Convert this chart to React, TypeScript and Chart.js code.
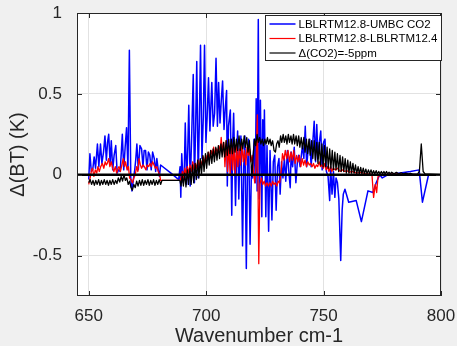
import { useEffect, useRef } from 'react';
import { Chart, registerables } from 'chart.js';

Chart.register(...registerables);

const xTicks = [650, 700, 750, 800];
const yTicks = [-0.5, 0, 0.5, 1];
const xRange = [645, 800];
const yRange = [-0.75, 1];
const seriesLabels = ['LBLRTM12.8-UMBC CO2', 'LBLRTM12.8-LBLRTM12.4', 'Δ(CO2)=-5ppm'];
const xTitle = 'Wavenumber cm-1';
const yTitle = 'Δ(BT) (K)';

// [wavenumber, ΔBT]
const umbc: [number, number][] = [
  [650.0, -0.03], [650.5, 0.13], [651.1, 0.02], [651.7, 0.03], [652.3, 0.11], [652.9, 0.04],
  [653.7, 0.19], [654.3, 0.05], [655.0, 0.19], [655.6, 0.07], [656.3, 0.14], [656.9, 0.24],
  [657.5, 0.09], [658.0, 0.2], [658.5, 0.25], [659.1, 0.07], [659.6, 0.21], [660.2, 0.03],
  [660.8, 0.12], [661.5, 0.18], [662.1, 0.01], [662.7, 0.03], [663.4, 0.02], [664.3, 0.25],
  [664.9, 0.03], [665.5, 0.17], [666.1, 0.29], [666.7, 0.03], [667.3, 0.77], [667.9, -0.02],
  [668.4, -0.1], [669.0, -0.03], [669.5, 0.02], [670.0, 0.09], [670.5, 0.19], [671.1, 0.03],
  [671.8, 0.18], [672.5, 0.16], [673.1, 0.05], [673.6, 0.15], [674.2, 0.15], [674.8, 0.03],
  [675.4, 0.14], [676.0, 0.12], [676.6, 0.03], [677.2, 0.14], [677.9, 0.1], [678.5, 0.02],
  [679.0, 0.1], [679.6, 0.03], [680.1, -0.01], [680.6, 0.06], [685.0, 0.01], [688.3, -0.03],
  [688.9, 0.05], [689.2, -0.14], [689.6, 0.13], [690.2, -0.05], [690.7, 0.03], [691.1, 0.32],
  [691.7, -0.06], [692.2, 0.18], [692.6, 0.43], [693.2, -0.07], [693.8, 0.22], [694.5, 0.62],
  [695.0, -0.05], [695.5, 0.28], [696.0, 0.7], [696.6, -0.02], [697.1, 0.33], [697.6, 0.8],
  [698.2, 0.1], [698.8, 0.36], [699.3, 0.8], [699.9, 0.2], [700.4, 0.35], [701.0, 0.6],
  [701.6, 0.27], [702.4, 0.57], [703.0, 0.3], [703.6, 0.38], [704.2, 0.72], [704.8, 0.3],
  [705.3, 0.57], [705.9, 0.32], [706.4, 0.45], [707.0, 0.58], [707.6, 0.28], [708.1, 0.4],
  [708.7, 0.52], [709.0, -0.07], [709.5, 0.3], [710.3, 0.4], [710.9, -0.25], [711.3, 0.2],
  [711.7, 0.38], [712.5, -0.19], [713.0, 0.15], [713.4, 0.27], [713.9, -0.15], [714.3, 0.1],
  [714.8, 0.24], [715.5, -0.44], [716.0, 0.05], [716.5, 0.24], [717.1, -0.58], [717.6, 0.05],
  [718.1, 0.22], [718.7, -0.43], [719.3, 0.05], [719.8, -0.02], [720.4, 0.22], [720.9, -0.05],
  [721.3, 0.47], [721.7, -0.1], [722.2, 0.96], [722.6, -0.15], [723.1, 0.46], [723.7, -0.26],
  [724.1, 0.34], [724.5, 0.0], [724.8, 0.4], [725.4, -0.26], [725.9, 0.18], [726.6, -0.35],
  [727.2, 0.15], [728.0, -0.28], [728.6, 0.08], [729.2, 0.12], [729.8, -0.22], [730.4, 0.05],
  [731.0, 0.1], [731.5, -0.12], [732.1, 0.08], [732.7, -0.02], [733.3, 0.1], [733.9, -0.04],
  [734.6, 0.15], [735.2, 0.02], [735.8, -0.08], [736.2, 0.14], [736.8, 0.05], [737.5, 0.17],
  [738.2, -0.05], [738.9, 0.09], [739.4, 0.12], [740.0, 0.05], [741.0, 0.18], [741.6, 0.1],
  [742.2, 0.3], [742.8, 0.05], [743.4, 0.15], [744.1, 0.22], [744.7, 0.05], [745.4, 0.2],
  [746.0, 0.33], [746.6, 0.08], [747.1, 0.31], [747.6, 0.1], [748.2, 0.2], [748.8, 0.27],
  [749.4, 0.03], [750.0, 0.2], [750.6, 0.22], [751.2, 0.02], [751.9, -0.01], [752.6, -0.16],
  [753.0, 0.05], [753.6, -0.12], [754.2, 0.02], [754.8, -0.14], [755.3, -0.02], [755.9, -0.05],
  [756.5, -0.15], [757.3, -0.53], [757.9, -0.22], [758.4, -0.12], [759.1, -0.09], [760.7, -0.17],
  [763.9, -0.16], [766.1, -0.29], [768.9, -0.1], [771.0, -0.11], [772.4, -0.05], [773.9, 0.0],
  [775.0, -0.02], [777.5, 0.0], [787.0, 0.02], [790.7, 0.03], [792.1, -0.17], [794.7, 0.0],
  [800.0, 0.0],
];

const lbl124: [number, number][] = [
  [650.0, -0.06], [650.6, -0.02], [651.2, 0.03], [651.6, 0.04], [652.2, -0.01], [652.8, 0.03],
  [653.4, 0.01], [653.9, 0.05], [654.5, 0.02], [655.1, 0.05], [655.8, 0.07], [656.4, 0.04],
  [657.0, 0.08], [657.5, 0.06], [657.9, 0.07], [658.5, 0.1], [659.0, 0.05], [659.6, 0.08],
  [660.2, 0.04], [660.7, 0.02], [661.3, 0.05], [661.9, 0.01], [662.5, 0.04], [662.9, 0.05],
  [663.5, 0.02], [664.1, 0.06], [664.7, 0.1], [665.2, 0.05], [665.7, 0.08], [666.3, 0.03],
  [666.9, 0.05], [667.4, -0.02], [668.0, -0.03], [668.6, -0.05], [669.2, -0.02], [669.8, 0.0],
  [670.4, 0.05], [670.9, 0.02], [671.4, 0.1], [672.0, 0.06], [672.5, 0.04], [673.1, 0.06],
  [673.7, 0.05], [674.3, 0.03], [674.9, 0.06], [675.5, 0.05], [676.1, 0.07], [676.6, 0.05],
  [677.2, 0.08], [677.8, 0.06], [678.4, 0.04], [679.0, 0.05], [679.6, 0.02], [680.2, 0.0],
  [680.6, -0.035], [689.0, -0.035], [689.4, -0.01], [689.9, 0.02], [690.4, -0.02], [690.9, 0.04],
  [691.5, 0.0], [692.0, 0.05], [692.6, 0.01], [693.1, 0.06], [693.7, 0.02], [694.3, 0.08],
  [694.8, 0.03], [695.4, 0.07], [696.0, 0.04], [696.5, 0.09], [697.1, 0.05], [697.6, 0.09],
  [698.2, 0.06], [698.8, 0.11], [699.3, 0.07], [699.9, 0.12], [700.4, 0.09], [701.0, 0.14],
  [701.5, 0.1], [702.1, 0.15], [702.6, 0.12], [703.2, 0.17], [703.7, 0.12], [704.3, 0.16],
  [704.9, 0.14], [705.4, 0.18], [706.0, 0.15], [706.4, 0.23], [706.9, 0.14], [707.5, 0.2],
  [708.0, 0.05], [708.6, 0.21], [709.1, 0.02], [709.7, 0.18], [710.2, 0.0], [710.8, 0.2],
  [711.3, 0.03], [711.9, 0.17], [712.4, 0.0], [713.0, 0.19], [713.5, 0.05], [714.1, 0.16],
  [714.6, 0.06], [715.2, 0.18], [715.8, 0.08], [716.3, 0.15], [716.9, 0.06], [717.4, 0.17],
  [718.0, 0.12], [718.5, 0.16], [719.0, 0.08], [719.6, 0.12], [720.1, 0.02], [720.7, -0.05],
  [721.2, 0.05], [721.8, 0.37], [722.4, -0.55], [722.9, -0.06], [723.5, -0.02], [724.1, -0.06],
  [724.7, -0.04], [725.3, -0.07], [725.9, -0.05], [726.5, -0.07], [727.1, -0.05], [727.7, -0.07],
  [728.3, -0.04], [728.9, -0.06], [729.5, -0.05], [730.1, -0.07], [730.7, -0.04], [731.3, -0.05],
  [731.9, 0.02], [732.5, 0.13], [733.1, 0.09], [733.7, 0.15], [734.3, 0.1], [734.9, 0.15],
  [735.5, 0.08], [736.1, 0.14], [736.7, 0.09], [737.3, 0.15], [737.9, 0.07], [738.5, 0.12],
  [739.1, 0.08], [739.7, 0.12], [740.3, 0.05], [740.9, 0.1], [741.5, 0.06], [742.1, 0.09],
  [742.7, 0.05], [743.3, 0.08], [743.9, 0.06], [744.5, 0.07], [745.1, 0.05], [745.7, 0.07],
  [746.3, 0.04], [746.9, 0.06], [747.5, 0.05], [748.1, 0.08], [748.7, 0.05], [749.3, 0.06],
  [749.9, 0.04], [750.5, 0.07], [751.1, 0.03], [751.7, 0.05], [752.3, 0.02], [752.9, 0.05],
  [753.5, 0.02], [754.1, 0.04], [755.0, 0.03], [756.0, 0.04], [757.0, 0.02], [758.0, 0.03],
  [759.0, 0.02], [760.0, 0.025], [761.0, 0.015], [762.0, 0.02], [764.0, 0.01], [766.0, 0.015],
  [768.0, 0.005], [770.0, 0.005], [770.6, 0.0], [771.3, -0.14], [772.0, -0.06], [772.6, -0.11],
  [773.2, -0.01], [775.0, 0.0], [780.0, 0.005], [790.0, 0.0], [800.0, 0.0],
];

const dco2: [number, number][] = [
  [650.0, -0.05], [650.6, -0.03], [651.2, -0.06], [651.8, -0.035], [652.4, -0.065], [653.0, -0.035],
  [653.6, -0.06], [654.2, -0.03], [654.8, -0.065], [655.4, -0.035], [656.0, -0.06], [656.6, -0.03],
  [657.2, -0.06], [657.8, -0.035], [658.4, -0.065], [659.0, -0.035], [659.6, -0.06], [660.2, -0.03],
  [660.8, -0.06], [661.4, -0.035], [662.0, -0.055], [662.6, -0.02], [663.2, -0.045], [663.8, -0.01],
  [664.4, -0.04], [665.0, 0.0], [665.6, -0.035], [666.2, -0.02], [666.8, -0.06], [667.4, -0.04],
  [668.0, -0.08], [668.6, -0.095], [669.2, -0.06], [669.8, -0.08], [670.4, -0.04], [671.0, -0.07],
  [671.6, -0.035], [672.2, -0.065], [672.8, -0.03], [673.4, -0.065], [674.0, -0.035], [674.6, -0.06],
  [675.2, -0.03], [675.8, -0.065], [676.4, -0.035], [677.0, -0.06], [677.6, -0.03], [678.2, -0.065],
  [678.8, -0.035], [679.4, -0.06], [680.0, -0.03], [680.6, -0.06], [681.2, -0.035], [688.8, -0.035],
  [689.3, -0.07], [689.8, 0.0], [690.3, -0.07], [690.9, 0.01], [691.4, -0.075], [692.0, 0.03],
  [692.5, -0.06], [693.1, 0.04], [693.6, -0.06], [694.2, 0.06], [694.7, -0.05], [695.3, 0.07],
  [695.8, -0.03], [696.4, 0.09], [696.9, -0.02], [697.5, 0.1], [698.0, 0.0], [698.6, 0.12],
  [699.1, 0.02], [699.7, 0.13], [700.2, 0.04], [700.8, 0.14], [701.3, 0.06], [701.9, 0.15],
  [702.4, 0.07], [703.0, 0.16], [703.5, 0.08], [704.1, 0.17], [704.6, 0.09], [705.2, 0.18],
  [705.7, 0.1], [706.3, 0.19], [706.8, 0.11], [707.4, 0.2], [707.9, 0.11], [708.5, 0.21],
  [709.0, 0.12], [709.6, 0.22], [710.1, 0.13], [710.7, 0.22], [711.2, 0.13], [711.8, 0.23],
  [712.3, 0.14], [712.9, 0.22], [713.4, 0.15], [714.0, 0.24], [714.5, 0.15], [715.1, 0.22],
  [715.6, 0.16], [716.2, 0.24], [716.7, 0.17], [717.3, 0.23], [717.8, 0.14], [718.4, 0.21],
  [719.0, 0.1], [719.5, -0.01], [720.0, 0.12], [720.6, 0.22], [721.1, 0.18], [721.7, 0.25],
  [722.2, 0.2], [722.8, 0.23], [723.3, 0.19], [723.9, 0.22], [724.4, 0.18], [725.0, 0.22],
  [725.5, 0.19], [726.1, 0.23], [726.6, 0.19], [727.2, 0.22], [727.7, 0.18], [728.3, 0.21],
  [728.9, 0.15], [729.5, 0.14], [730.0, 0.19], [730.6, 0.21], [731.1, 0.17], [731.7, 0.24],
  [732.2, 0.2], [732.8, 0.25], [733.3, 0.2], [733.9, 0.24], [734.4, 0.19], [735.0, 0.25],
  [735.5, 0.2], [736.1, 0.24], [736.6, 0.19], [737.2, 0.25], [737.7, 0.19], [738.3, 0.24],
  [738.8, 0.18], [739.4, 0.24], [739.9, 0.17], [740.5, 0.23], [741.0, 0.16], [741.6, 0.23],
  [742.1, 0.14], [742.7, 0.22], [743.2, 0.13], [743.8, 0.22], [744.3, 0.12], [744.9, 0.21],
  [745.4, 0.1], [746.0, 0.21], [746.5, 0.09], [747.1, 0.2], [747.6, 0.07], [748.2, 0.2],
  [748.7, 0.06], [749.3, 0.19], [749.8, 0.05], [750.4, 0.18], [750.9, 0.05], [751.5, 0.17],
  [752.0, 0.04], [752.6, 0.16], [753.1, 0.04], [753.7, 0.15], [754.2, 0.03], [754.8, 0.14],
  [755.3, 0.03], [755.9, 0.13], [756.4, 0.02], [757.0, 0.12], [757.5, 0.02], [758.1, 0.11],
  [758.6, 0.02], [759.2, 0.1], [759.7, 0.01], [760.3, 0.09], [760.8, 0.01], [761.4, 0.08],
  [761.9, 0.01], [762.5, 0.07], [763.0, 0.01], [763.6, 0.06], [764.1, 0.005], [764.7, 0.05],
  [765.2, 0.005], [765.8, 0.045], [766.3, 0.005], [766.9, 0.04], [767.4, 0.005], [768.0, 0.035],
  [768.5, 0.005], [769.1, 0.03], [769.6, 0.005], [770.2, 0.03], [770.7, 0.005], [771.3, 0.025],
  [771.8, 0.005], [772.4, 0.025], [772.9, 0.005], [773.5, 0.02], [774.0, 0.005], [774.6, 0.02],
  [775.1, 0.005], [775.7, 0.02], [776.2, 0.005], [776.8, 0.02], [777.3, 0.005], [777.9, 0.015],
  [778.4, 0.005], [779.0, 0.015], [780.0, 0.005], [781.0, 0.015], [782.0, 0.005], [783.0, 0.012],
  [784.0, 0.005], [785.0, 0.01], [786.0, 0.005], [787.0, 0.008], [788.0, 0.004], [790.0, 0.004],
  [790.8, 0.02], [791.6, 0.19], [792.4, 0.02], [793.2, 0.005], [800.0, 0.0],
];

const zeroLine: [number, number][] = [[645, 0], [800, 0]];

const seriesColors = ['#0000ff', '#ff0000', '#000000'];
const FONT = "'Liberation Sans', Arial, Helvetica, sans-serif";
const INK = '#262626';

const toPts = (arr: [number, number][]) => arr.map(([x, y]) => ({ x, y }));

const decoPlugin = {
  id: 'deco',
  beforeDraw(chart: any) {
    const { ctx, chartArea: a } = chart;
    ctx.save();
    ctx.fillStyle = '#f0f0f0';
    ctx.fillRect(0, 0, chart.width, chart.height);
    ctx.fillStyle = '#ffffff';
    ctx.fillRect(a.left, a.top, a.right - a.left, a.bottom - a.top);
    ctx.restore();
  },
  afterDatasetsDraw(chart: any) {
    const { ctx, chartArea: a, scales } = chart;
    ctx.save();
    ctx.strokeStyle = INK;
    ctx.lineWidth = 1;
    const tl = 5;
    ctx.beginPath();
    for (const v of xTicks) {
      const px = Math.round(scales.x.getPixelForValue(v)) + 0.5;
      ctx.moveTo(px, a.bottom);
      ctx.lineTo(px, a.bottom - tl);
      ctx.moveTo(px, a.top);
      ctx.lineTo(px, a.top + tl);
    }
    for (const v of yTicks) {
      const py = Math.round(scales.y.getPixelForValue(v)) + 0.5;
      ctx.moveTo(a.left, py);
      ctx.lineTo(a.left + tl, py);
      ctx.moveTo(a.right, py);
      ctx.lineTo(a.right - tl, py);
    }
    ctx.stroke();
    ctx.strokeRect(a.left + 0.5, a.top + 0.5, a.right - a.left - 1, a.bottom - a.top - 1);

    // legend
    const lw = 176;
    const lh = 45;
    const lx = Math.round(a.right - lw) + 0.5;
    const ly = Math.round(a.top + 2) + 0.5;
    ctx.fillStyle = '#ffffff';
    ctx.fillRect(lx, ly, lw, lh);
    ctx.strokeStyle = INK;
    ctx.strokeRect(lx, ly, lw, lh);
    ctx.font = `11.5px ${FONT}`;
    ctx.textBaseline = 'middle';
    ctx.textAlign = 'left';
    seriesLabels.forEach((lab, i) => {
      const yy = ly + 8.5 + i * 14.5;
      ctx.strokeStyle = seriesColors[i];
      ctx.lineWidth = i === 0 ? 1.5 : 1.2;
      ctx.beginPath();
      ctx.moveTo(lx + 4, yy);
      ctx.lineTo(lx + 30, yy);
      ctx.stroke();
      ctx.fillStyle = '#000000';
      ctx.fillText(lab, lx + 33, yy + 0.5);
    });
    ctx.restore();
  },
};

export default function App() {
  const ref = useRef<HTMLCanvasElement | null>(null);
  useEffect(() => {
    if (!ref.current) return;
    const chart = new Chart(ref.current, {
      type: 'line',
      data: {
        datasets: [
          { label: 'zero', data: toPts(zeroLine), borderColor: '#000000', borderWidth: 2.6, pointRadius: 0, order: 0 },
          { label: seriesLabels[2], data: toPts(dco2), borderColor: seriesColors[2], borderWidth: 1.3, pointRadius: 0, order: 1 },
          { label: seriesLabels[1], data: toPts(lbl124), borderColor: seriesColors[1], borderWidth: 1.3, pointRadius: 0, order: 2 },
          { label: seriesLabels[0], data: toPts(umbc), borderColor: seriesColors[0], borderWidth: 1.5, pointRadius: 0, order: 3 },
        ],
      },
      options: {
        animation: false,
        responsive: false,
        devicePixelRatio: 1,
        events: [],
        layout: { padding: { left: 0, right: 16, top: 13, bottom: 0 } },
        plugins: { legend: { display: false }, tooltip: { enabled: false }, title: { display: false } },
        elements: { line: { tension: 0, borderJoinStyle: 'round' as const } },
        scales: {
          x: {
            type: 'linear',
            min: xRange[0],
            max: xRange[1],
            afterBuildTicks: (s: any) => { s.ticks = xTicks.map((v) => ({ value: v })); },
            afterFit: (s: any) => { s.height = 50; },
            grid: { color: '#e2e2e2', lineWidth: 1, drawTicks: true, tickLength: 10, tickColor: 'rgba(0,0,0,0)' },
            border: { display: false },
            ticks: {
              color: INK,
              padding: 0,
              autoSkip: false,
              maxRotation: 0,
              font: { family: FONT, size: 17 },
              callback: (v: any) => String(v),
            },
            title: {
              display: true,
              text: xTitle,
              color: INK,
              font: { family: FONT, size: 20, lineHeight: 1.0 },
              padding: { top: 0, bottom: 0 },
            },
          },
          y: {
            type: 'linear',
            min: yRange[0],
            max: yRange[1],
            afterBuildTicks: (s: any) => { s.ticks = yTicks.map((v) => ({ value: v })); },
            afterFit: (s: any) => { s.width = 77; },
            grid: { color: '#e2e2e2', lineWidth: 1, drawTicks: true, tickLength: 15, tickColor: 'rgba(0,0,0,0)' },
            border: { display: false },
            ticks: {
              color: INK,
              padding: 0,
              autoSkip: false,
              font: { family: FONT, size: 17 },
              callback: (v: any) => String(v),
            },
            title: {
              display: true,
              text: yTitle,
              color: INK,
              font: { family: FONT, size: 20, lineHeight: 1.2 },
              padding: { top: 6, bottom: 0 },
            },
          },
        },
      },
      plugins: [decoPlugin],
    } as any);
    return () => chart.destroy();
  }, []);
  return (
    <div style={{ position: 'absolute', left: 0, top: 0, width: 457, height: 346, background: '#f0f0f0' }}>
      <canvas ref={ref} width={457} height={346} style={{ width: 457, height: 346, display: 'block' }} />
    </div>
  );
}
